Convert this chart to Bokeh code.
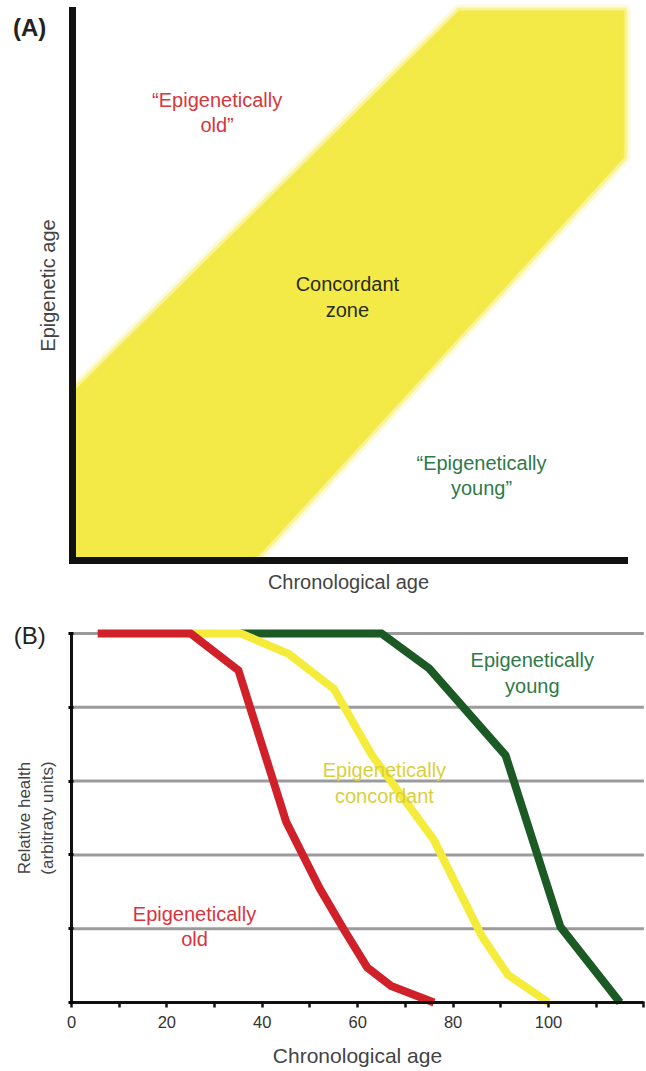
from bokeh.plotting import figure
from bokeh.layouts import column
from bokeh.models import Range1d, FixedTicker, Label
from bokeh.core.properties import value
from bokeh.embed import file_html
from bokeh.resources import INLINE

FONT = "Liberation Sans"

# ---------------- Panel A data ----------------
band_x = [0, 0, 70, 100, 100, 33]          # chronological age (arbitrary)
band_y = [0, 30.6, 100, 100, 73.3, 0]       # epigenetic age (arbitrary)
a_text = ["\u201cEpigenetically\nold\u201d", "Concordant\nzone", "\u201cEpigenetically\nyoung\u201d"]
a_text_x = [26.2, 49.8, 74.1]
a_text_y = [81.5, 47.9, 15.4]
a_text_color = ["#d6363d", "#2b2b1a", "#2e7a4a"]

# ---------------- Panel B data ----------------
red_age = [5.5, 25, 35, 45, 52, 57, 62, 67, 76]
red_health = [100, 100, 90, 49, 31, 20, 9.5, 4.5, 0]
yellow_age = [25.5, 35.5, 45.5, 55, 63, 76, 86, 91.5, 100]
yellow_health = [100, 100, 94.5, 85, 67, 44, 18, 7.5, 0]
green_age = [35.5, 65, 75, 91, 102.5, 115]
green_health = [100, 100, 90.5, 67, 20.5, 0]
x_major = [0, 20, 40, 60, 80, 100]
x_minor = [10, 30, 50, 70, 90, 110, 120]
y_grid = [0, 20, 40, 60, 80, 100]
b_text = ["Epigenetically\nyoung", "Epigenetically\nconcordant", "Epigenetically\nold"]
b_text_x = [96.6, 65.6, 25.8]
b_text_y = [89.3, 59.5, 20.6]
b_text_color = ["#2d7a48", "#d9cf3e", "#d83440"]

BAND = "#f3ea48"
A_X = (0, 100)
A_Y = (0, 100)
B_X = (0, 120)
B_Y = (0, 100)

# ================= Panel A =================
# frame fills the whole canvas; axes are pinned at data 0 with fixed_location
pa = figure(width=646, height=600, x_range=Range1d(-13.04, 103.99), y_range=Range1d(-7.27, 101.82),
            min_border=0, output_backend="svg", toolbar_location=None)
pa.outline_line_color = None
pa.grid.grid_line_color = None

pa.patch(band_x, band_y, fill_color=BAND, line_color=None)
edge_x = band_x[1:]
edge_y = band_y[1:]
pa.line(edge_x, edge_y, line_color=BAND, line_width=12, line_alpha=0.22, line_join="round")
pa.line(edge_x, edge_y, line_color=BAND, line_width=6, line_alpha=0.45, line_join="round")

pa.xaxis.fixed_location = A_Y[0]
pa.yaxis.fixed_location = A_X[0]
pa.xaxis.bounds = A_X
pa.yaxis.bounds = A_Y
for ax in (pa.xaxis, pa.yaxis):
    ax.ticker = FixedTicker(ticks=[])
    ax.major_tick_out = 0
    ax.major_tick_in = 0
    ax.minor_tick_out = 0
    ax.minor_tick_in = 0
    ax.axis_line_width = 7
    ax.axis_line_color = "#111111"
    ax.axis_line_cap = "square"
    ax.axis_label_text_font = FONT
    ax.axis_label_text_font_style = "normal"
    ax.axis_label_text_font_size = "20px"
    ax.axis_label_text_color = "#444444"
pa.xaxis.axis_label = "Chronological age"
pa.yaxis.axis_label = "Epigenetic age"
pa.xaxis.axis_label_standoff = 10
pa.yaxis.axis_label_standoff = 14

pa.text(a_text_x, a_text_y, text=a_text, text_color=a_text_color, text_font=value(FONT),
        text_font_size="20px", text_align="center", text_baseline="middle", text_line_height=1.15)

pa.add_layout(Label(x=-7.75, y=96.95, text="(A)",
                    text_font=FONT, text_font_size="24px", text_font_style="bold",
                    text_color="#222222", text_align="center", text_baseline="middle"))

# ================= Panel B =================
pb = figure(width=646, height=471, x_range=Range1d(-14.88, 120.55), y_range=Range1d(-18.70, 108.94),
            min_border=0, output_backend="svg", toolbar_location=None)
pb.outline_line_color = None
pb.grid.grid_line_color = None

# horizontal reference lines at the y ticks, spanning the x-axis extent
pb.segment(x0=[B_X[0]] * len(y_grid), y0=y_grid, x1=[B_X[1]] * len(y_grid), y1=y_grid,
           line_color="#9b9b9b", line_width=3)

pb.line(green_age, green_health, line_color="#1b5a24", line_width=8, line_join="miter")
pb.line(yellow_age, yellow_health, line_color="#f5eb3b", line_width=8, line_join="miter")
pb.line(red_age, red_health, line_color="#d0202a", line_width=8, line_join="miter")

pb.xaxis.fixed_location = B_Y[0]
pb.yaxis.fixed_location = B_X[0]

pb.xaxis.ticker = FixedTicker(ticks=x_major, minor_ticks=x_minor)
pb.xaxis.bounds = B_X
pb.xaxis.axis_line_width = 3
pb.xaxis.axis_line_color = "#111111"
pb.xaxis.major_tick_out = 5
pb.xaxis.major_tick_in = 1
pb.xaxis.minor_tick_out = 5
pb.xaxis.minor_tick_in = 1
pb.xaxis.major_tick_line_width = 2.5
pb.xaxis.minor_tick_line_width = 2.5
pb.xaxis.major_tick_line_color = "#111111"
pb.xaxis.minor_tick_line_color = "#111111"
pb.xaxis.major_label_text_font = FONT
pb.xaxis.major_label_text_font_size = "16.5px"
pb.xaxis.major_label_text_color = "#333333"
pb.xaxis.major_label_standoff = 9
pb.xaxis.axis_label = "Chronological age"
pb.xaxis.axis_label_text_font = FONT
pb.xaxis.axis_label_text_font_style = "normal"
pb.xaxis.axis_label_text_font_size = "21px"
pb.xaxis.axis_label_text_color = "#444444"
pb.xaxis.axis_label_standoff = 12

pb.yaxis.ticker = FixedTicker(ticks=y_grid)
pb.yaxis.bounds = B_Y
pb.yaxis.axis_line_width = 3
pb.yaxis.axis_line_color = "#111111"
pb.yaxis.major_tick_out = 3
pb.yaxis.major_tick_in = 2
pb.yaxis.major_tick_line_width = 3
pb.yaxis.minor_tick_out = 0
pb.yaxis.minor_tick_in = 0
pb.yaxis.major_label_text_font_size = "1px"
pb.yaxis.major_label_text_color = None
pb.yaxis.major_label_standoff = 0
pb.yaxis.axis_label = "Relative health\n(arbitraty units)"
pb.yaxis.axis_label_text_font = FONT
pb.yaxis.axis_label_text_font_style = "normal"
pb.yaxis.axis_label_text_font_size = "17px"
pb.yaxis.axis_label_text_color = "#444444"
pb.yaxis.axis_label_standoff = 12

pb.text(b_text_x, b_text_y, text=b_text, text_color=b_text_color, text_font=value(FONT),
        text_font_size="20px", text_align="center", text_baseline="middle", text_line_height=1.15)

pb.add_layout(Label(x=-8.76, y=99.5, text="(B)",
                    text_font=FONT, text_font_size="24px", text_font_style="normal",
                    text_color="#222222", text_align="center", text_baseline="middle"))

layout = column(pa, pb, spacing=0)
open("out.html", "w").write(file_html(layout, INLINE))
